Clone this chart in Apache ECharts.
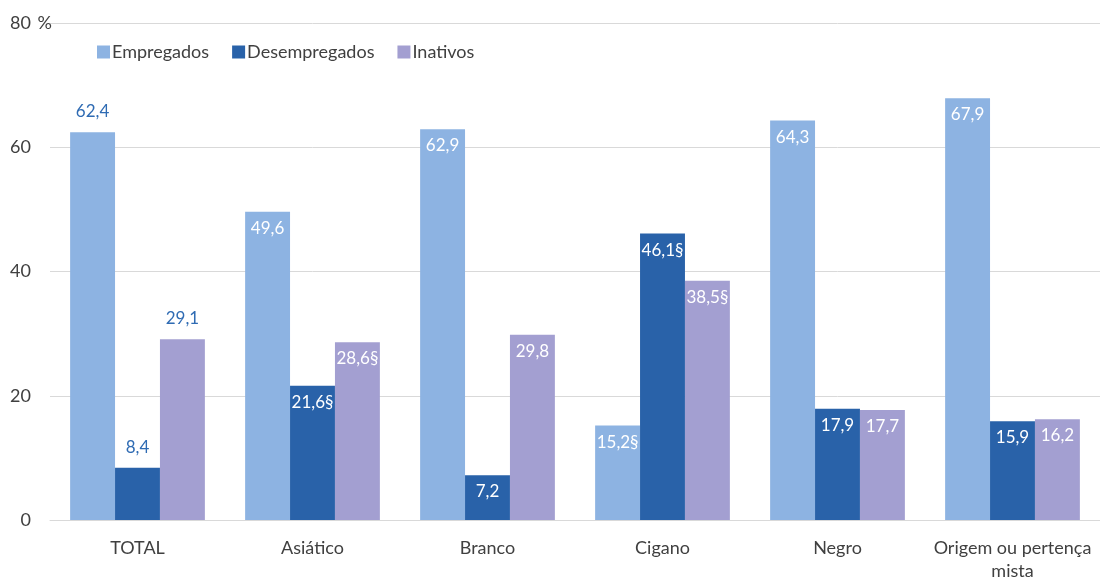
<!DOCTYPE html>
<html>
<head>
<meta charset="utf-8">
<script src="https://cdn.jsdelivr.net/npm/echarts@6/dist/echarts.min.js"></script>
<style>html,body{margin:0;padding:0;background:#fff}#c{width:1100px;height:580px}</style>
</head>
<body>
<div id="c"></div>
<script>
const categories = ['TOTAL', 'Asiático', 'Branco', 'Cigano', 'Negro', 'Origem ou pertença\nmista'];
const seriesNames = ['Empregados', 'Desempregados', 'Inativos'];
const empregados = [62.4, 49.6, 62.9, 15.2, 64.3, 67.9];
const desempregados = [8.4, 21.6, 7.2, 46.1, 17.9, 15.9];
const inativos = [29.1, 28.6, 29.8, 38.5, 17.7, 16.2];
// '§' marks (low reliability) per category
const markEmpregados = [false, false, false, true, false, false];
const markDesempregados = [false, true, false, true, false, false];
const markInativos = [false, true, false, true, false, false];
const yTicks = [0, 20, 40, 60, 80];

const colors = ['#8DB3E2', '#2962A9', '#A39FD1'];
const font = 'Lato, "Open Sans", sans-serif';

function buildData(values, marks) {
  return values.map((v, i) => {
    const txt = v.toFixed(1).replace('.', ',') + (marks[i] ? '§' : '');
    if (i === 0) {
      return { value: v, label: { show: true, position: 'top', distance: 12, color: '#2F6BB3', formatter: txt } };
    }
    return { value: v, label: { show: true, position: 'insideTop', distance: 8, color: '#ffffff', formatter: txt } };
  });
}

const chart = echarts.init(document.getElementById('c'));
chart.setOption({
  animation: false,
  color: colors,
  textStyle: { fontFamily: font },
  legend: {
    left: 92, top: 38,
    itemWidth: 13, itemHeight: 13, itemGap: 23,
    icon: 'rect',
    textStyle: { fontSize: 18, color: '#404040', fontFamily: font, padding: [0, 0, 0, -3] },
    data: seriesNames
  },
  grid: { left: 50, right: 0, top: 23, bottom: 60, containLabel: false, outerBoundsMode: 'none' },
  xAxis: {
    type: 'category',
    data: categories,
    axisTick: { show: false },
    axisLine: { lineStyle: { color: '#D9D9D9', width: 1 } },
    axisLabel: { interval: 0, fontSize: 18, color: '#404040', margin: 17, lineHeight: 23, fontFamily: font }
  },
  yAxis: {
    type: 'value',
    min: yTicks[0], max: yTicks[yTicks.length - 1], interval: 20,
    name: '%',
    nameLocation: 'end',
    nameGap: 0,
    nameMoveOverlap: false,
    nameTextStyle: { align: 'right', verticalAlign: 'middle', fontSize: 18, color: '#404040', fontFamily: font, padding: [0, -2, 0, 0] },
    axisLine: { show: false },
    axisTick: { show: false },
    axisLabel: { fontSize: 18, color: '#404040', margin: 19, fontFamily: font },
    splitLine: { lineStyle: { color: '#D9D9D9', width: 1 } }
  },
  series: [
    { name: seriesNames[0], type: 'bar', data: buildData(empregados, markEmpregados), barGap: '0%', barCategoryGap: '23%',
      label: { fontSize: 17, fontFamily: font } },
    { name: seriesNames[1], type: 'bar', data: buildData(desempregados, markDesempregados), barGap: '0%', barCategoryGap: '23%',
      label: { fontSize: 17, fontFamily: font } },
    { name: seriesNames[2], type: 'bar', data: buildData(inativos, markInativos), barGap: '0%', barCategoryGap: '23%',
      label: { fontSize: 17, fontFamily: font } }
  ]
});
</script>
</body>
</html>
